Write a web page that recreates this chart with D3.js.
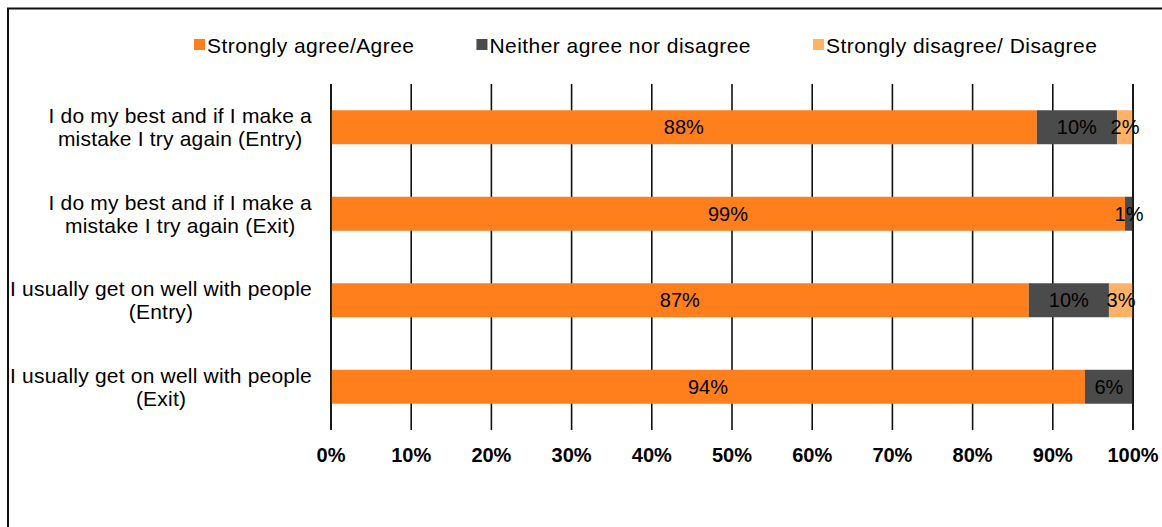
<!DOCTYPE html>
<html>
<head>
<meta charset="utf-8">
<script src="https://cdn.jsdelivr.net/npm/d3@7"></script>
<style>
  html, body { margin: 0; padding: 0; background: #fff; }
  svg { display: block; }
  text { font-family: Arial, "Liberation Sans", sans-serif; fill: #000; }
</style>
</head>
<body>
<svg id="chart" width="1162" height="527"></svg>
<script>
// Survey statements (each label split into its two display lines)
const categories = ["best_entry", "best_exit", "people_entry", "people_exit"];
const categoryLines = [
  ["I do my best and if I make a", "mistake I try again (Entry)"],
  ["I do my best and if I make a", "mistake I try again (Exit)"],
  ["I usually get on well with people", "(Entry)"],
  ["I usually get on well with people", "(Exit)"]
];

// Response shares, in percent
const seriesNames = ["Strongly agree/Agree", "Neither agree nor disagree", "Strongly disagree/ Disagree"];
const agree    = [88, 99, 87, 94];
const neither  = [10, 1, 10, 6];
const disagree = [2, 0, 3, 0];

const tickValues = [0, 10, 20, 30, 40, 50, 60, 70, 80, 90, 100];
const colors = ["#fe7f1c", "#4b4b4b", "#ffb266"];

const svg = d3.select("#chart");

// Outer frame of the figure panel
svg.append("path")
  .attr("d", "M8,1000 V8.5 H1200")
  .attr("fill", "none")
  .attr("stroke", "#111")
  .attr("stroke-width", 2);

const x = d3.scaleLinear().domain([0, 100]).range([331, 1133]);
const pad = 0.607;
const y = d3.scaleBand().domain(categories).range([84, 430])
  .paddingInner(pad).paddingOuter(pad / 2);

// Vertical gridlines (behind bars)
svg.append("g").selectAll("line")
  .data(tickValues)
  .join("line")
  .attr("x1", d => x(d)).attr("x2", d => x(d))
  .attr("y1", 84).attr("y2", 430)
  .attr("stroke", "#111")
  .attr("stroke-width", 1.6);

// Stack the three response groups
const rows = categories.map((c, i) => ({ key: c, a: agree[i], n: neither[i], d: disagree[i] }));
const stack = d3.stack().keys(["a", "n", "d"]);
const layers = stack(rows);

const gBars = svg.append("g");
layers.forEach((layer, li) => {
  gBars.append("g")
    .attr("fill", colors[li])
    .selectAll("rect")
    .data(layer)
    .join("rect")
    .attr("x", d => x(d[0]))
    .attr("y", d => y(d.data.key))
    .attr("width", d => x(d[1]) - x(d[0]))
    .attr("height", y.bandwidth());
});

// 0% and 100% edges stay visible on top of the bars
svg.append("g").selectAll("line")
  .data([0, 100])
  .join("line")
  .attr("x1", d => x(d)).attr("x2", d => x(d))
  .attr("y1", 84).attr("y2", 430)
  .attr("stroke", "#111")
  .attr("stroke-width", 1.6);

// Value labels centred on each segment
const gLabels = svg.append("g");
layers.forEach((layer) => {
  gLabels.append("g")
    .selectAll("text")
    .data(layer.filter(d => d[1] - d[0] > 0))
    .join("text")
    .attr("x", d => x((d[0] + d[1]) / 2))
    .attr("y", d => y(d.data.key) + y.bandwidth() / 2)
    .attr("text-anchor", "middle")
    .attr("dominant-baseline", "central")
    .attr("font-size", 20)
    .attr("fill", "#111")
    .text(d => (d[1] - d[0]) + "%");
});

// Category labels: lines centred within a right-aligned block
const labelRight = 312;
categories.forEach((c, i) => {
  const g = svg.append("g");
  const cy = y(c) + y.bandwidth() / 2;
  const lines = categoryLines[i];
  const texts = lines.map((ln, j) => g.append("text")
    .attr("y", cy + (j - (lines.length - 1) / 2) * 23)
    .attr("dominant-baseline", "central")
    .attr("text-anchor", "middle")
    .attr("font-size", 21)
    .attr("letter-spacing", 0.2)
    .text(ln));
  const maxW = d3.max(texts, t => t.node().getComputedTextLength());
  texts.forEach(t => t.attr("x", labelRight - maxW / 2));
});

// X-axis tick labels
svg.append("g").selectAll("text")
  .data(tickValues)
  .join("text")
  .attr("x", d => x(d))
  .attr("y", 455)
  .attr("text-anchor", "middle")
  .attr("dominant-baseline", "central")
  .attr("font-size", 20)
  .attr("font-weight", "bold")
  .text(d => d + "%");

// Legend
const legend = svg.append("g");
let lx = 194;
seriesNames.forEach((name, i) => {
  legend.append("rect")
    .attr("x", lx).attr("y", 39)
    .attr("width", 11).attr("height", 11)
    .attr("fill", colors[i]);
  const t = legend.append("text")
    .attr("x", lx + 13).attr("y", 45)
    .attr("dominant-baseline", "central")
    .attr("font-size", 21)
    .attr("letter-spacing", 0.45)
    .text(name);
  lx += 13 + t.node().getComputedTextLength() + 62;
});
</script>
</body>
</html>
